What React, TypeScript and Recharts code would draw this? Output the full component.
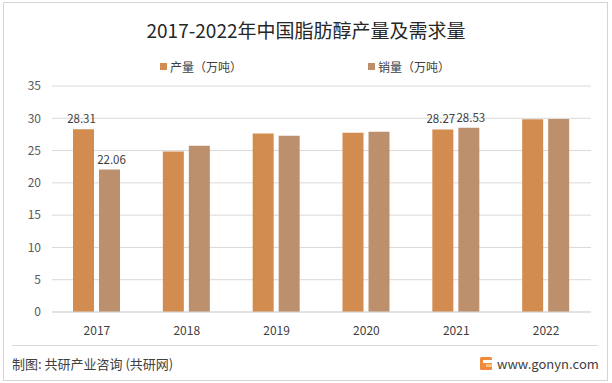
import React from "react";
import { BarChart, Bar, XAxis, YAxis, CartesianGrid, LabelList } from "recharts";

const years = ["2017", "2018", "2019", "2020", "2021", "2022"];
const production = [28.31, 24.87, 27.65, 27.76, 28.27, 29.87];
const sales = [22.06, 25.74, 27.29, 27.9, 28.53, 29.9];
// only these years carry a value label in the original
const labelledYears = ["2017", "2021"];
const yTicks = [0, 5, 10, 15, 20, 25, 30, 35];
const seriesNames = ["产量（万吨）", "销量（万吨）"];

const data = years.map((year, i) => ({
  year,
  production: production[i],
  sales: sales[i],
  prodLabel: labelledYears.includes(year) ? production[i].toFixed(2) : undefined,
  salesLabel: labelledYears.includes(year) ? sales[i].toFixed(2) : undefined,
}));

const FONT = '"Noto Sans CJK SC", "Noto Sans", sans-serif';
const ORANGE = "#D38C4F";
const BROWN = "#BC8F6D";

function LegendItem({ left, color, text }: { left: number; color: string; text: string }) {
  return (
    <div
      style={{
        position: "absolute",
        left,
        top: 58,
        display: "flex",
        alignItems: "center",
        fontSize: 12,
        color: "#404040",
        whiteSpace: "nowrap",
      }}
    >
      <span style={{ width: 7, height: 7, background: color, marginRight: 3, display: "inline-block" }} />
      {text}
    </div>
  );
}

export default function App() {
  return (
    <div
      style={{
        position: "absolute",
        left: 0,
        top: 0,
        width: 612,
        height: 383,
        background: "#fff",
        fontFamily: FONT,
        overflow: "hidden",
      }}
    >
      <div
        style={{
          position: "absolute",
          left: 3,
          top: 2,
          width: 603,
          height: 377,
          border: "1px solid #d4d4d4",
        }}
      />
      <div
        style={{
          position: "absolute",
          top: 16,
          left: 0,
          width: 612,
          textAlign: "center",
          fontSize: 19,
          color: "#262626",
        }}
      >
        2017-2022年中国脂肪醇产量及需求量
      </div>
      <LegendItem left={160} color={ORANGE} text={seriesNames[0]} />
      <LegendItem left={368} color={BROWN} text={seriesNames[1]} />
      <BarChart
        width={612}
        height={383}
        data={data}
        margin={{ top: 86, right: 21, bottom: 41, left: 12 }}
        barGap={5}
        barSize={21}
        style={{ position: "absolute", left: 0, top: 0 }}
      >
        <CartesianGrid stroke="#d9d9d9" vertical={false} />
        <XAxis
          dataKey="year"
          height={30}
          axisLine={{ stroke: "#d9d9d9" }}
          tickLine={false}
          tick={{ fill: "#404040", fontSize: 12, fontFamily: FONT }}
          tickMargin={8}
        />
        <YAxis
          width={40}
          domain={[0, 35]}
          ticks={yTicks}
          axisLine={false}
          tickLine={false}
          tick={{ fill: "#595959", fontSize: 12, fontFamily: FONT }}
          tickMargin={5}
        />
        <Bar dataKey="production" name={seriesNames[0]} fill={ORANGE} isAnimationActive={false}>
          <LabelList
            dataKey="prodLabel"
            position="top"
            offset={6}
            dx={-2}
            fill="#404040"
            fontSize={11.5}
            fontFamily={FONT}
          />
        </Bar>
        <Bar dataKey="sales" name={seriesNames[1]} fill={BROWN} isAnimationActive={false}>
          <LabelList
            dataKey="salesLabel"
            position="top"
            offset={6}
            dx={2}
            fill="#404040"
            fontSize={11.5}
            fontFamily={FONT}
          />
        </Bar>
      </BarChart>
      <div
        style={{
          position: "absolute",
          left: 12,
          top: 345,
          width: 586,
          borderTop: "1px solid #d9d9d9",
        }}
      />
      <div
        style={{
          position: "absolute",
          left: 12,
          top: 354,
          fontSize: 13,
          color: "#404040",
        }}
      >
        制图: 共研产业咨询 (共研网)
      </div>
      <div
        style={{
          position: "absolute",
          left: 480,
          top: 354,
          display: "flex",
          alignItems: "center",
          fontSize: 13,
          color: "#404040",
        }}
      >
        <svg width="12" height="13" style={{ marginRight: 5 }}>
          <rect x="0" y="0" width="12" height="13" rx="1.5" fill="#F08A3C" />
          <rect x="3" y="3" width="9" height="3" fill="#fff" />
          <rect x="6" y="7" width="6" height="3" fill="#FFC27A" />
        </svg>
        www.gonyn.com
      </div>
    </div>
  );
}
